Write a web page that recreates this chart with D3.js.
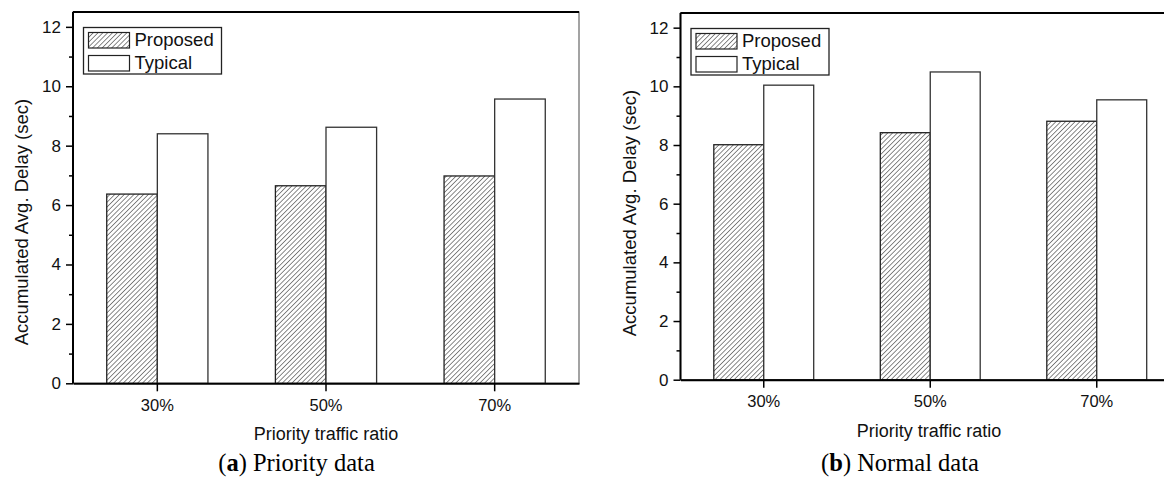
<!DOCTYPE html>
<html>
<head>
<meta charset="utf-8">
<script src="https://cdn.jsdelivr.net/npm/d3@7"></script>
<style>
  body { margin: 0; background: #fff; }
  svg { display: block; }
  text { font-family: "Liberation Sans", Arial, sans-serif; fill: #111; }
  text.caption { font-family: "Liberation Serif", "Times New Roman", serif; fill: #000; }
</style>
</head>
<body>
<div id="chart"></div>
<script>
const categories = ["30%", "50%", "70%"];
const seriesNames = ["Proposed", "Typical"];
const priorityProposed = [6.37, 6.65, 6.98];
const priorityTypical = [8.40, 8.62, 9.57];
const normalProposed = [8.01, 8.42, 8.81];
const normalTypical = [10.04, 10.49, 9.54];
const yTicks = [0, 2, 4, 6, 8, 10, 12];
const yMinorTicks = [1, 3, 5, 7, 9, 11];

const width = 1164, height = 477;

const svg = d3.select("#chart").append("svg")
  .attr("width", width)
  .attr("height", height);

// hatch pattern for "Proposed"
const defs = svg.append("defs");
defs.append("pattern")
  .attr("id", "hatch")
  .attr("patternUnits", "userSpaceOnUse")
  .attr("width", 3.4)
  .attr("height", 3.4)
  .attr("patternTransform", "rotate(45)")
  .call(p => {
    p.append("rect").attr("width", 3.4).attr("height", 3.4).attr("fill", "#fff");
    p.append("line")
      .attr("x1", 0).attr("y1", 0).attr("x2", 0).attr("y2", 3.4)
      .attr("stroke", "#3a3a3a").attr("stroke-width", 1.2);
  });

function drawPanel(opts) {
  const { left, right, top, bottom, proposed, typical } = opts;
  const g = svg.append("g");

  const x = d3.scaleBand()
    .domain(categories)
    .range([left, right])
    .padding(0);
  const bw = x.bandwidth();
  const xSub = d3.scaleBand()
    .domain(seriesNames)
    .range([0.2 * bw, 0.8 * bw]);

  const y = d3.scaleLinear()
    .domain([0, 12.5])
    .range([bottom, top]);

  const rows = categories.map((c, i) => ({ cat: c, Proposed: proposed[i], Typical: typical[i] }));

  // frame
  g.append("rect")
    .attr("x", left).attr("y", top)
    .attr("width", right - left).attr("height", bottom - top)
    .attr("fill", "none")
    .attr("stroke", "#666")
    .attr("stroke-width", 1.2);
  g.append("line")
    .attr("x1", left).attr("x2", right)
    .attr("y1", top).attr("y2", top)
    .attr("stroke", "#000").attr("stroke-width", 2);

  // bars
  g.append("g").selectAll("g")
    .data(rows)
    .join("g")
    .attr("transform", d => `translate(${x(d.cat)},0)`)
    .selectAll("rect")
    .data(d => seriesNames.map(s => ({ s, v: d[s] })))
    .join("rect")
    .attr("x", d => xSub(d.s))
    .attr("width", xSub.bandwidth())
    .attr("y", d => y(d.v))
    .attr("height", d => y(0) - y(d.v))
    .attr("fill", d => d.s === "Proposed" ? "url(#hatch)" : "#fff")
    .attr("stroke", d => d.s === "Proposed" ? "#222" : "#333")
    .attr("stroke-width", 1.3);

  // y axis
  const yAxis = g.append("g")
    .attr("transform", `translate(${left},0)`)
    .call(d3.axisLeft(y).tickValues(yTicks).tickSize(7).tickPadding(5).tickSizeOuter(0));
  yAxis.attr("font-family", null).attr("font-size", null);
  yAxis.selectAll("text").attr("font-size", 17);
  yAxis.selectAll(".tick line").attr("stroke-width", 1.5);

  const yMinor = g.append("g")
    .attr("transform", `translate(${left},0)`)
    .call(d3.axisLeft(y).tickValues(yMinorTicks).tickSize(4).tickFormat(""));
  yMinor.select(".domain").remove();
  yMinor.selectAll(".tick line").attr("stroke-width", 1.5);

  yAxis.select(".domain")
    .attr("d", `M0,${top}V${bottom}`)
    .attr("stroke-width", 2);

  // x axis
  const xAxis = g.append("g")
    .attr("transform", `translate(0,${bottom})`)
    .call(d3.axisBottom(x).tickSize(8).tickPadding(8).tickSizeOuter(0));
  xAxis.attr("font-family", null).attr("font-size", null);
  xAxis.selectAll("text").attr("font-size", 16.5);
  xAxis.selectAll(".tick line").attr("stroke-width", 1.5);
  xAxis.select(".domain").attr("stroke-width", 2);

  // axis titles
  g.append("text")
    .attr("x", opts.xTitleX)
    .attr("y", bottom + 57)
    .attr("text-anchor", "middle")
    .attr("font-size", 18)
    .text("Priority traffic ratio");

  g.append("text")
    .attr("transform", `translate(${left - 45},${opts.yTitleY}) rotate(-90)`)
    .attr("text-anchor", "middle")
    .attr("font-size", 18.5)
    .text("Accumulated Avg. Delay (sec)");

  // legend
  const lx = left + 10.5, ly = top + 15.5;
  const legend = g.append("g").attr("transform", `translate(${lx},${ly})`);
  legend.append("rect")
    .attr("width", 138).attr("height", 46.5)
    .attr("fill", "#fff")
    .attr("stroke", "#222")
    .attr("stroke-width", 1.3);
  seriesNames.forEach((s, i) => {
    legend.append("rect")
      .attr("x", 5).attr("y", 5 + i * 23)
      .attr("width", 41).attr("height", 15.5)
      .attr("fill", s === "Proposed" ? "url(#hatch)" : "#fff")
      .attr("stroke", "#222")
      .attr("stroke-width", 1.2);
    legend.append("text")
      .attr("x", 51).attr("y", 18.5 + i * 23)
      .attr("font-size", 18.5)
      .text(s);
  });

  // caption
  const cap = g.append("text")
    .attr("class", "caption")
    .attr("x", opts.capX)
    .attr("y", 471)
    .attr("text-anchor", "middle")
    .attr("font-size", 24.5);
  cap.append("tspan").text("(");
  cap.append("tspan").attr("font-weight", "bold").text(opts.capLetter);
  cap.append("tspan").text(") " + opts.capText);
}

drawPanel({
  left: 73, right: 579, top: 12, bottom: 383.3,
  proposed: priorityProposed, typical: priorityTypical,
  xTitleX: 326, yTitleY: 222,
  capX: 296.5, capLetter: "a", capText: "Priority data"
});

drawPanel({
  left: 680.5, right: 1180, top: 13, bottom: 379.7,
  proposed: normalProposed, typical: normalTypical,
  xTitleX: 929, yTitleY: 213,
  capX: 900, capLetter: "b", capText: "Normal data"
});
</script>
</body>
</html>
